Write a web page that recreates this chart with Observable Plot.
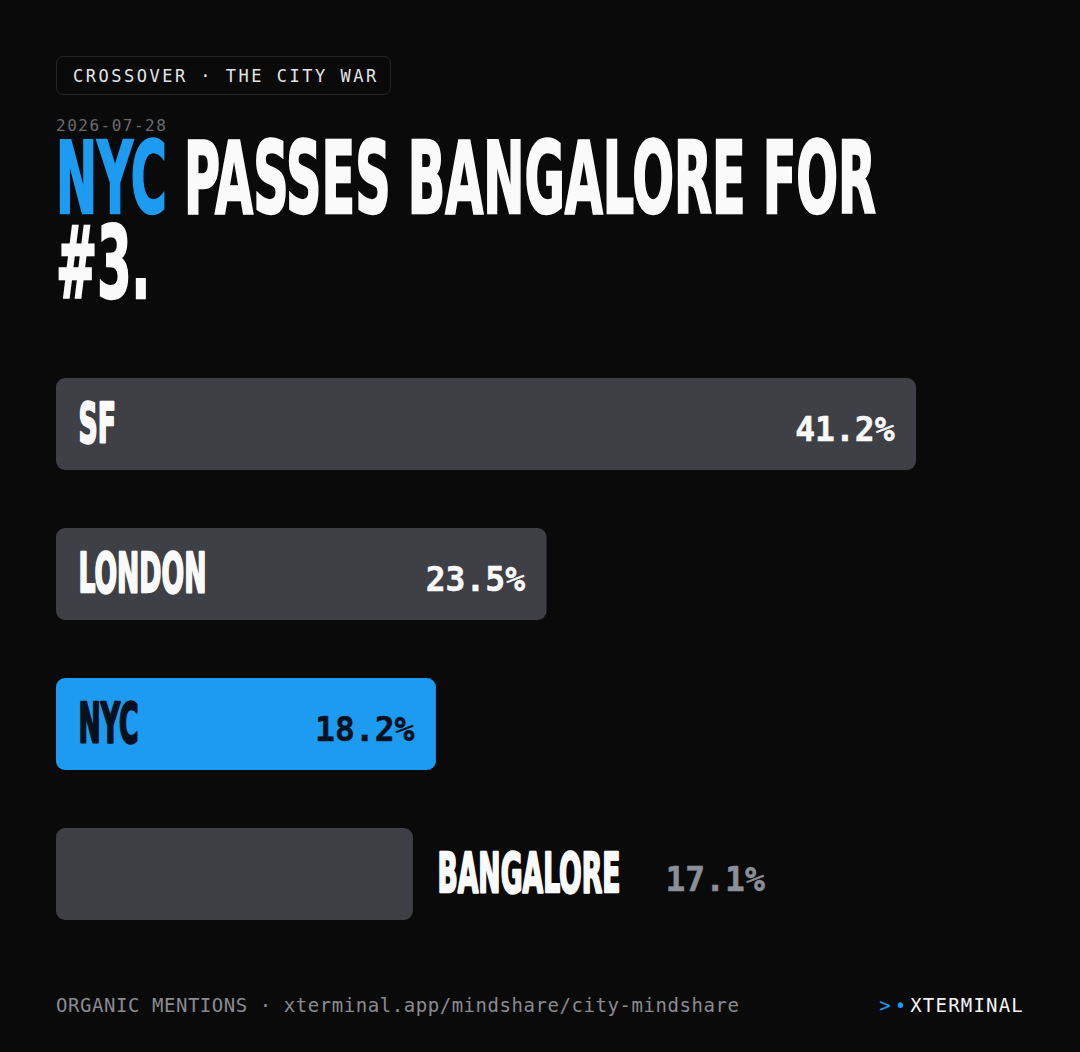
<!DOCTYPE html>
<html>
<head>
<meta charset="utf-8">
<script src="https://cdn.jsdelivr.net/npm/d3@7"></script>
<script src="https://cdn.jsdelivr.net/npm/@observablehq/plot@0.6"></script>
<style>
  html, body { margin:0; padding:0; background:#0a0a0a; }
  #page { position:relative; width:1080px; height:1052px; background:#0a0a0a; overflow:hidden; }
  .mono { font-family:"DejaVu Sans Mono","Liberation Mono",monospace; }
  .cond { font-family:"DejaVu Sans Condensed","DejaVu Sans",sans-serif; font-stretch:condensed; font-weight:700; }
  #badge { position:absolute; left:56px; top:56px; width:335px; height:39px; box-sizing:border-box;
           border:1px solid #26262a; border-radius:7px; color:#e4e4e7; font-size:17px; letter-spacing:2.5px;
           display:flex; align-items:center; padding-left:16px; }
  #date { position:absolute; left:56px; top:118px; font-size:16px; line-height:16px; color:#6b6b70; letter-spacing:1.5px; }
  #title { position:absolute; left:56px; top:136px; font-size:100px; line-height:85px; color:#fafafa; white-space:nowrap; }
  #title span.in { display:inline-block; transform-origin:0 0; -webkit-text-stroke:2.4px currentColor; }
  .blue { color:#1d9bf0; }
  #chart { position:absolute; left:0; top:340px; }
  #foot { position:absolute; left:56px; top:996px; font-size:19px; line-height:19px; color:#8a8a90; letter-spacing:0.55px; white-space:nowrap; }
  #brand { position:absolute; right:56px; top:996px; font-size:19px; line-height:19px; color:#f4f4f5; letter-spacing:1.2px; white-space:nowrap; }
  #brand .p { color:#1d9bf0; letter-spacing:4px; }
</style>
</head>
<body>
<div id="page">
  <div id="badge" class="mono">CROSSOVER · THE CITY WAR</div>
  <div id="date" class="mono">2026-07-28</div>
  <div id="title" class="cond"><span class="in" id="l1"><span class="blue">NYC</span> PASSES BANGALORE FOR</span><br><span class="in" id="l2">#3.</span></div>
  <div id="chart"></div>
  <div id="foot" class="mono">ORGANIC MENTIONS · xterminal.app/mindshare/city-mindshare</div>
  <div id="brand" class="mono"><span class="p">&gt;•</span>XTERMINAL</div>
</div>
<script>
// ---- data ----
const cities = ["SF", "LONDON", "NYC", "BANGALORE"];
const shares = [41.2, 23.5, 18.2, 17.1];
const highlightCity = "NYC";
const outsideCities = ["BANGALORE"];

// ---- style ----
const GRAY = "#3f3f46", BLUE = "#1d9bf0", DARK = "#07111d", WHITE = "#fafafa", MUTED = "#8b8f98";
const CITY_FONT = "DejaVu Sans Condensed, DejaVu Sans, sans-serif";
const MONO_FONT = "DejaVu Sans Mono, Liberation Mono, monospace";

const data = cities.map((c, i) => ({
  city: c,
  value: shares[i],
  hl: c === highlightCity,
  outside: outsideCities.includes(c)
}));
const inside = data.filter(d => !d.outside);
const outside = data.filter(d => d.outside);
const pct = d => d.value.toFixed(1) + "%";

const chart = Plot.plot({
  width: 1080,
  height: 620,
  margin: 0,
  style: { background: "transparent", overflow: "visible" },
  x: { domain: [0, d3.max(shares)], range: [56, 916], axis: null },
  y: { type: "band", domain: cities, range: [38, 580], paddingInner: 58 / 150, paddingOuter: 0, round: false, axis: null },
  color: { type: "identity" },
  marks: [
    Plot.barX(data, { x: "value", y: "city", fill: d => d.hl ? BLUE : GRAY, rx: 9 }),
    Plot.text(inside, {
      x: 0, y: "city", text: "city", textAnchor: "start", lineAnchor: "bottom",
      dx: 22, dy: 17, fill: d => d.hl ? DARK : WHITE, stroke: d => d.hl ? DARK : WHITE, strokeWidth: 2.4,
      fontSize: 56, fontWeight: 700, fontFamily: CITY_FONT
    }),
    Plot.text(outside, {
      x: "value", y: "city", text: "city", textAnchor: "start", lineAnchor: "bottom",
      dx: 24, dy: 17, fill: WHITE, stroke: WHITE, strokeWidth: 2.4,
      fontSize: 56, fontWeight: 700, fontFamily: CITY_FONT
    }),
    Plot.text(inside, {
      x: "value", y: "city", text: pct, textAnchor: "end", lineAnchor: "bottom",
      dx: -22, dy: 16, fill: d => d.hl ? DARK : WHITE, stroke: d => d.hl ? DARK : WHITE, strokeWidth: 0.5,
      fontSize: 33, fontWeight: 700, fontFamily: MONO_FONT
    }),
    Plot.text(outside, {
      x: "value", y: "city", text: pct, textAnchor: "start", lineAnchor: "bottom",
      dx: 252, dy: 16, fill: MUTED, stroke: MUTED, strokeWidth: 0.5,
      fontSize: 33, fontWeight: 700, fontFamily: MONO_FONT
    })
  ]
});
document.getElementById("chart").appendChild(chart);

// condense the city labels to a narrow display face
const cityTexts = Array.from(chart.querySelectorAll("text")).filter(t => cities.includes(t.textContent));
const ref = cityTexts.find(t => t.textContent === "LONDON");
const s = ref ? 128 / ref.getComputedTextLength() : 0.55;
cityTexts.forEach(t => {
  t.setAttribute("font-stretch", "condensed");
  t.setAttribute("transform", (t.getAttribute("transform") || "") + ` scale(${s},1)`);
});

// condense the title lines
const l1 = document.getElementById("l1");
const l2 = document.getElementById("l2");
const ts = 820 / l1.getBoundingClientRect().width;
l1.style.transform = `scaleX(${ts})`;
l2.style.transform = `scaleX(${ts})`;
</script>
</body>
</html>
